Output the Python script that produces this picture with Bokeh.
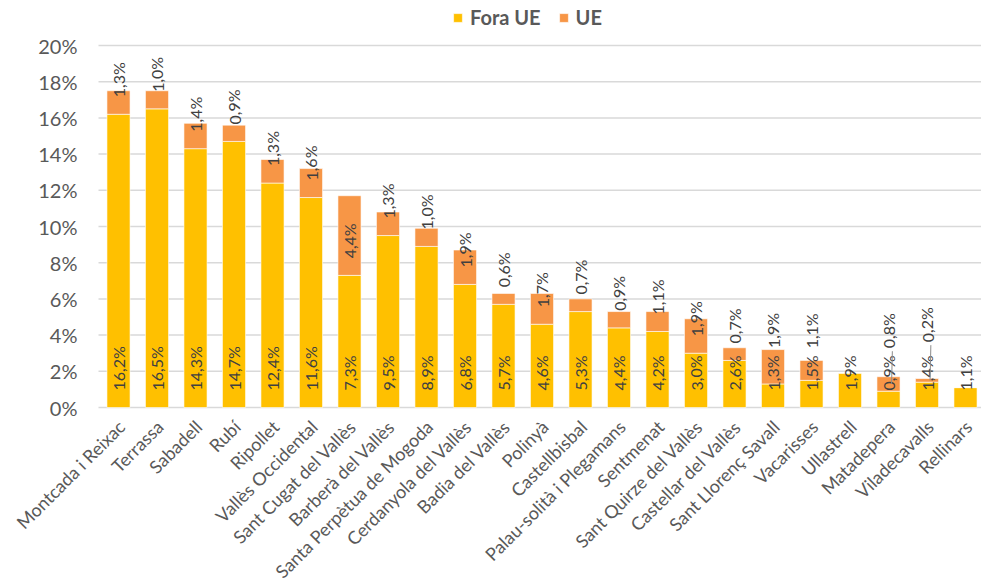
from bokeh.plotting import figure
from bokeh.models import ColumnDataSource, Range1d, Legend, LegendItem
from bokeh.core.properties import value
from bokeh.embed import file_html
from bokeh.resources import INLINE

municipis = ["Montcada i Reixac", "Terrassa", "Sabadell", "Rubí", "Ripollet",
             "Vallès Occidental", "Sant Cugat del Vallès", "Barberà del Vallès",
             "Santa Perpètua de Mogoda", "Cerdanyola del Vallès", "Badia del Vallès",
             "Polinyà", "Castellbisbal", "Palau-solità i Plegamans", "Sentmenat",
             "Sant Quirze del Vallès", "Castellar del Vallès", "Sant Llorenç Savall",
             "Vacarisses", "Ullastrell", "Matadepera", "Viladecavalls", "Rellinars"]
fora_ue = [16.2, 16.5, 14.3, 14.7, 12.4, 11.6, 7.3, 9.5, 8.9, 6.8, 5.7, 4.6, 5.3,
           4.4, 4.2, 3.0, 2.6, 1.3, 1.5, 1.9, 0.9, 1.4, 1.1]
ue = [1.3, 1.0, 1.4, 0.9, 1.3, 1.6, 4.4, 1.3, 1.0, 1.9, 0.6, 1.7, 0.7,
      0.9, 1.1, 1.9, 0.7, 1.9, 1.1, 0.0, 0.8, 0.2, 0.0]
y_ticks = [0, 2, 4, 6, 8, 10, 12, 14, 16, 18, 20]
y_tick_labels = ["0%", "2%", "4%", "6%", "8%", "10%", "12%", "14%", "16%", "18%", "20%"]
series_names = ["Fora UE", "UE"]
colors = ["#FFC000", "#F79646"]
# screen-pixel lift of the UE labels above the base of their segment
ue_label_lift = [17, 17, 17, 17, 17, 17, 17, 17, 17, 17, 17, 17, 17,
                 17, 17, 17, 17, 36, 32, 17, 43, 40, 17]
leader_for = ["Matadepera", "Viladecavalls"]

# ---- layout constants (pixels) ----
W, H = 981, 588
GRID_LEFT = 98          # where the gridlines start
FIRST_X = 118           # centre of the first bar
STEP = 38.5             # distance between bars
ZERO_Y, TOP_Y = 407, 45  # pixel rows of 0 % and 20 %
px_per_unit = (ZERO_Y - TOP_Y) / 20.0

x_lo = -FIRST_X / STEP
x_hi = (W - FIRST_X) / STEP
grid_x0 = (GRID_LEFT - FIRST_X) / STEP
y_lo = -(H - ZERO_Y) / px_per_unit
y_hi = 20 + TOP_Y / px_per_unit

def fmt(v):
    return ("%.1f%%" % v).replace(".", ",")

idx = list(range(len(municipis)))
src = ColumnDataSource(dict(x=idx, cat=municipis, fora=fora_ue, ue=ue))

p = figure(x_range=Range1d(x_lo, x_hi), y_range=Range1d(y_lo, y_hi),
           width=W, height=H, output_backend="svg", toolbar_location=None,
           min_border=0)
p.xaxis.visible = False
p.yaxis.visible = False
p.grid.visible = False
p.outline_line_color = None

# gridlines and y tick labels
grid_src = ColumnDataSource(dict(y=y_ticks, t=y_tick_labels,
                                 x0=[grid_x0] * len(y_ticks), x1=[x_hi] * len(y_ticks)))
p.segment(x0="x0", y0="y", x1="x1", y1="y", source=grid_src,
          line_color="#d9d9d9", line_width=1.5)
p.text(x="x0", y="y", text="t", source=grid_src, x_offset=-21,
       text_align="right", text_baseline="middle",
       text_font=value("Lato"), text_font_size="20px", text_color="#595959")

rs = p.vbar_stack(["fora", "ue"], x="x", width=0.6, color=colors,
                  line_color="white", line_width=0.6, source=src)

lab_font = value("Lato")
lab_col = "#404040"

# Fora UE labels (inside base)
fora_src = ColumnDataSource(dict(x=idx, y=[0] * len(idx),
                                 t=[fmt(v) for v in fora_ue]))
p.text(x="x", y="y", text="t", source=fora_src, angle=1.5708,
       text_align="left", text_baseline="middle", y_offset=-17,
       text_font=lab_font, text_font_size="16px", text_color=lab_col)

# UE labels
ux, uy, ut, uo = [], [], [], []
lx0, lx1, ly0, ly1 = [], [], [], []
for i, c, f, u, lift in zip(idx, municipis, fora_ue, ue, ue_label_lift):
    if u > 0:
        ux.append(i); uy.append(f); ut.append(fmt(u)); uo.append(-lift)
    if c in leader_for:
        lx0.append(i + 0.08); lx1.append(i + 0.1)
        ly0.append(f + u * 0.5); ly1.append(f + (lift - 3) / px_per_unit)
ue_src = ColumnDataSource(dict(x=ux, y=uy, t=ut, o=uo))
p.text(x="x", y="y", text="t", source=ue_src, angle=1.5708,
       text_align="left", text_baseline="middle", y_offset="o",
       text_font=lab_font, text_font_size="16px", text_color=lab_col)

# leader lines for displaced labels
lead_src = ColumnDataSource(dict(x0=lx0, x1=lx1, y0=ly0, y1=ly1))
p.segment(x0="x0", y0="y0", x1="x1", y1="y1", source=lead_src,
          line_color="#8c8c8c", line_width=1)

# category labels
cat_src = ColumnDataSource(dict(x=idx, y=[0] * len(idx), t=municipis))
p.text(x="x", y="y", text="t", source=cat_src, angle=0.7854,
       text_align="right", text_baseline="middle", x_offset=3, y_offset=16,
       text_font=lab_font, text_font_size="18px", text_color="#595959")

legend = Legend(items=[LegendItem(label=series_names[0], renderers=[rs[0]]),
                       LegendItem(label=series_names[1], renderers=[rs[1]])],
                orientation="horizontal", location=(452, H - 29),
                glyph_width=11, glyph_height=11, spacing=17, padding=0, margin=0,
                label_standoff=7, label_height=20,
                label_text_font="Lato", label_text_font_size="20px",
                label_text_font_style="bold", label_text_color="#595959",
                border_line_color=None, background_fill_alpha=0)
p.add_layout(legend)

open("out.html", "w").write(file_html(p, INLINE))
